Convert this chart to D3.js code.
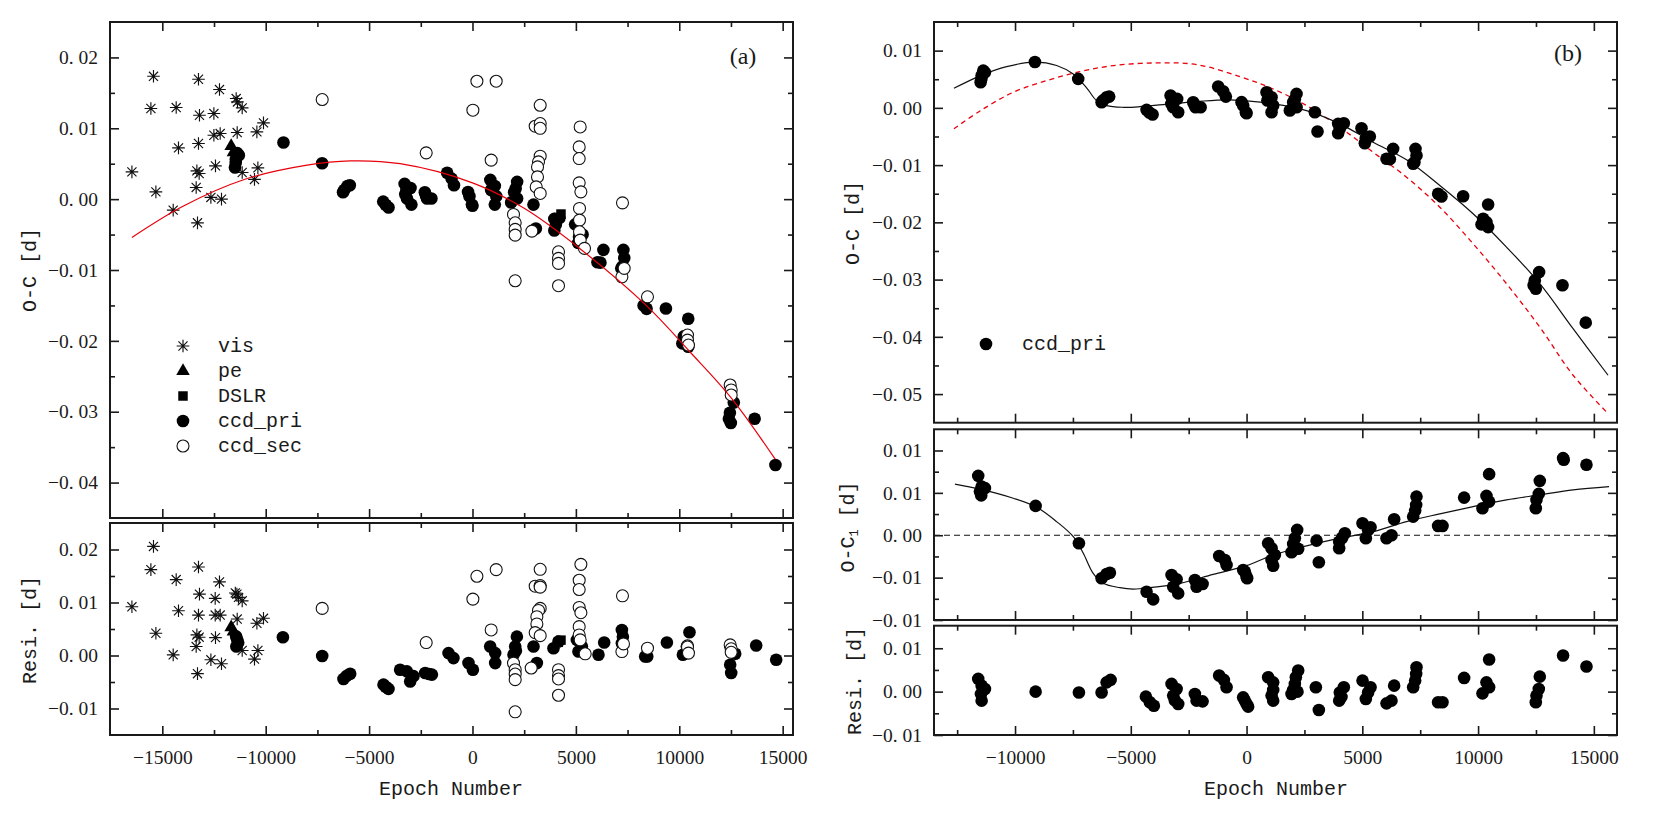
<!DOCTYPE html>
<html>
<head>
<meta charset="utf-8">
<script src="https://cdn.jsdelivr.net/npm/d3@7"></script>
<style>
  body { margin: 0; background: #fff; }
</style>
</head>
<body>
<div id="vis"></div>
<script>
var width = 1661;
var height = 818;

var font_num = "'Liberation Serif', 'DejaVu Serif', serif";
var font_txt = "'Liberation Mono', 'DejaVu Sans Mono', monospace";
var ink = "#1a1a1a";

// ---- ticks ----
var x_major_left = [-15000, -10000, -5000, 0, 5000, 10000, 15000];
var x_minor_left = [-12500, -7500, -2500, 2500, 7500, 12500];
var x_major_right = [-10000, -5000, 0, 5000, 10000, 15000];
var x_minor_right = [-12500, -7500, -2500, 2500, 7500, 12500];
var y_major_lt = [0.02, 0.01, 0, -0.01, -0.02, -0.03, -0.04];
var y_minor_lt = [0.015, 0.005, -0.005, -0.015, -0.025, -0.035];
var y_major_lb = [0.02, 0.01, 0, -0.01];
var y_minor_lb = [0.015, 0.005, -0.005];
var y_major_rt = [0.01, 0, -0.01, -0.02, -0.03, -0.04, -0.05];
var y_minor_rt = [0.005, -0.005, -0.015, -0.025, -0.035, -0.045];
var y_major_rm = [0.01, 0.005, 0, -0.005, -0.01];
var y_minor_rm = [0.0075, 0.0025, -0.0025, -0.0075];
var y_major_rb = [0.005, 0, -0.005];
var y_minor_rb = [0.0025, -0.0025];

// ---- panel (a): O-C ----
var vis_epoch = [-16470,-15427,-15553,-15311,-14329,-14474,-14218,-13251,-13203,-13251,-13329,-13218,-13362,-13299,-12235,-12506,-12506,-12201,-12429,-12651,-12138,-11428,-11365,-11137,-11379,-11137,-10427,-10378,-10543,-10107];
var vis_oc = [0.00385,0.01734,0.01279,0.00103,0.01293,-0.00155,0.00723,0.01692,0.01184,0.00785,0.00399,0.00362,0.00165,-0.00334,0.01547,0.01208,0.00902,0.00926,0.0047,0.00024,0.0,0.0142,0.01372,0.01287,0.0094,0.00376,0.00949,0.00441,0.00278,0.01076];

var pe_epoch = [-11670, -11560];
var pe_oc = [0.0075, 0.0066];

var dslr_epoch = [4150, 4280];
var dslr_oc = [-0.0026, -0.0021];

// ccd_pri, shared by (a) and (b)
var pri_epoch = [-11486,-11443,-11373,-11300,-11450,-9141,-7271,-6261,-6200,-6045,-5933,-4318,-4200,-4059,-3282,-3195,-3169,-3250,-2997,-2953,-2305,-2250,-2202,-1986,-1226,-1010,-894,-216,-147,-30,0,863,900,1080,1150,1080,1870,2014,2087,2159,2159,2949,3065,3957,4030,3957,4201,4965,5108,5150,5324,6045,6189,6331,7196,7250,7297,7340,8274,8419,9354,10147,10218,10362,10434,10434,12400,12449,12493,12636,13645,14651];
var pri_oc = [0.00447,0.00564,0.0065,0.0062,0.0051,0.008,0.00506,0.00098,0.0013,0.00185,0.00197,-0.00035,-0.0008,-0.00117,0.00215,0.00127,0.0001,0.0007,0.00157,-0.00077,0.00098,0.0005,0.0001,0.0001,0.00372,0.0029,0.00197,0.001,0.0004,-0.00077,-0.00094,0.00272,0.0013,0.00185,0.0004,-0.00077,-0.00047,0.00098,0.0015,0.00244,0.0001,-0.00077,-0.00414,-0.00279,-0.0036,-0.00443,-0.00268,-0.00356,-0.00617,-0.0053,-0.005,-0.0089,-0.00896,-0.00716,-0.00977,-0.0095,-0.00716,-0.0083,-0.015,-0.01548,-0.01543,-0.02036,-0.01937,-0.01996,-0.02083,-0.01687,-0.031,-0.03014,-0.03159,-0.02869,-0.031,-0.03752];

var sec_epoch = [-7268,-2239,19,213,1146,904,1983,2065,2065,2065,2065,2873,3274,3032,3274,3274,3274,3193,3144,3144,3081,3274,4160,4160,4160,4160,5208,5160,5160,5160,5242,5175,5175,5175,5208,5416,7254,7225,7336,8463,10397,10397,10445,12462,12511,12511];
var sec_oc = [0.01406,0.00653,0.01255,0.01664,0.01664,0.0055,-0.00216,-0.00334,-0.00427,-0.00508,-0.01152,-0.00451,0.01325,0.01029,0.01067,0.01,0.00606,0.00526,0.00455,0.00314,0.00173,0.0008,-0.00743,-0.00836,-0.00907,-0.01222,0.01019,0.00737,0.00573,0.0023,0.00103,-0.00131,-0.00296,-0.00461,-0.00578,-0.00695,-0.00052,-0.01096,-0.00977,-0.01378,-0.01918,-0.0199,-0.02059,-0.02623,-0.02693,-0.02764];

// quadratic fit in (a)
var quad_epoch = [-16470,-14000,-11000,-8000,-5900,-3500,0,2500,5200,8400,10500,12500,14640];
var quad_oc = [-0.0054,-0.001,0.0028,0.0048,0.0054,0.005,0.0023,-0.0013,-0.007,-0.015,-0.0215,-0.028,-0.0367];

// ---- panel (a): residuals ----
var res_vis_epoch = [-16470,-15427,-15553,-15311,-14329,-14474,-14218,-13251,-13203,-13251,-13329,-13218,-13362,-13299,-12235,-12443,-12443,-12201,-12429,-12651,-12138,-11394,-11316,-11137,-11379,-11137,-10427,-10378,-10543,-10107,-11470];
var res_vis = [0.00919,0.02058,0.01621,0.0042,0.01433,0.00013,0.00844,0.0167,0.01157,0.00763,0.00388,0.00345,0.00169,-0.00343,0.01388,0.01077,0.00763,0.00763,0.00338,-0.00081,-0.00156,0.01157,0.01096,0.01032,0.00688,0.00094,0.00608,0.00094,-0.00068,0.00702,0.0118];
var res_pe = [0.0053, 0.0045];
var res_dslr = [0.0025, 0.0029];
var res_pri_epoch = [-11430,-11380,-11330,-11420,-9169,-7268,-6238,-6100,-5915,-4304,-4200,-4062,-3500,-3172,-3013,-2853,-2287,-2100,-1963,-1160,-919,-193,19,856,1098,1098,2147,2065,1983,2100,2950,3113,3917,4160,5049,5290,5126,6093,6369,7225,7273,7225,8352,8450,9401,10494,10368,10175,12704,12462,12511,13720,14687];
var res_pri = [0.0036,0.003,0.0024,0.0017,0.00345,-0.0001,-0.00443,-0.0039,-0.00343,-0.0055,-0.0059,-0.0063,-0.0027,-0.003,-0.0049,-0.0039,-0.0033,-0.0035,-0.0036,0.00045,-0.00049,-0.00143,-0.00268,0.00169,0.00045,-0.00143,0.00356,0.00169,0.00013,0.0009,0.00169,-0.00143,0.00138,0.00263,0.00294,0.00169,0.00075,0.00013,0.00244,0.00482,0.00356,0.00233,-0.00019,-0.0002,0.00244,0.00439,0.00169,0.00013,0.00032,-0.00174,-0.0033,0.00188,-0.00081];
var res_sec_epoch = [-7268,-2239,19,213,1146,904,1983,2065,2065,2065,2065,2839,3274,3032,3274,3274,3274,3193,3113,3113,3032,3274,4160,4160,4160,4160,5242,5160,5160,5160,5242,5160,5160,5208,5450,7254,7225,7302,8463,10397,10397,10445,12462,12511,12511];
var res_sec = [0.00889,0.00244,0.01064,0.01495,0.01621,0.00482,-0.00143,-0.00268,-0.0035,-0.00456,-0.01062,-0.00236,0.01626,0.01308,0.0132,0.0129,0.00889,0.0085,0.00732,0.00595,0.00432,0.00375,-0.00268,-0.0038,-0.00443,-0.0075,0.0172,0.0142,0.01245,0.00907,0.00807,0.00544,0.00388,0.00294,0.00032,0.01126,0.00075,0.00219,0.00138,0.00182,0.0016,0.00045,0.002,0.00126,0.0006];

// ---- panel (b) ----
var fit_epoch = [-12639,-11486,-10363,-9141,-8204,-7487,-6909,-6477,-6045,-5328,-4607,-3600,-2159,-721,1150,2591,4029,5467,6909,8347,9785,11227,12665,14103,15614];
var fit_oc = [0.00342,0.00564,0.0072,0.008,0.0074,0.0059,0.0035,0.00127,0.0004,0.0001,0.0002,0.00058,0.0011,0.0014,0.0007,-0.00047,-0.00279,-0.006,-0.00907,-0.01356,-0.0185,-0.02432,-0.03071,-0.03857,-0.04671];
var par_epoch = [-12639,-11486,-10078,-8636,-7198,-5760,-3961,-2159,-289,1150,2591,4029,5467,6909,8347,9785,11227,12665,14103,15614];
var par_oc = [-0.00366,-0.00047,0.00272,0.00476,0.00633,0.00738,0.00785,0.00756,0.00546,0.0033,0.0004,-0.00339,-0.00775,-0.01211,-0.01735,-0.02373,-0.03071,-0.03829,-0.04671,-0.0534];

var oc1_epoch = [-11590,-11443,-11300,-11516,-11460,-9111,-7241,-6261,-6045,-5902,-4318,-4033,-3239,-3022,-3169,-2953,-2232,-2159,-1900,-1183,-937,-864,-147,0,-73,26,933,1080,1222,1080,1150,2185,2086,2014,1943,2230,3023,3122,4000,4245,4000,4130,5009,5354,5152,5250,6045,6261,6375,7340,7325,7282,7196,8274,8463,9397,10477,10362,10477,10190,12665,12622,12522,12493,13671,13700,14681];
var oc1 = [0.00701,0.00574,0.00556,0.00515,0.0047,0.00346,-0.00095,-0.00508,-0.00457,-0.00442,-0.00667,-0.00757,-0.00469,-0.0052,-0.00607,-0.00686,-0.00528,-0.00607,-0.00576,-0.00245,-0.00292,-0.00351,-0.0041,-0.00489,-0.0043,-0.00508,-0.00095,-0.00154,-0.00233,-0.00292,-0.00359,0.00063,-0.00035,-0.00103,-0.00201,-0.0016,-0.00064,-0.00319,-0.00076,0.00024,-0.00154,-0.0003,0.00142,0.00095,-0.00035,0.0006,-0.00035,0.0,0.00189,0.00456,0.00358,0.00291,0.0022,0.0011,0.0011,0.00444,0.00721,0.00465,0.00397,0.00319,0.00642,0.00488,0.00417,0.00319,0.0091,0.0089,0.00831];
var ltte_epoch = [-12596,-11516,-10078,-9068,-8204,-7483,-7052,-6624,-6192,-5471,-4897,-4176,-2880,-1442,0,1150,2591,4029,5467,6909,8347,9785,11227,12665,14103,15656];
var ltte = [0.00603,0.00544,0.00437,0.00331,0.00161,-0.00017,-0.00213,-0.00449,-0.00567,-0.00619,-0.00635,-0.00619,-0.00567,-0.00461,-0.00359,-0.00233,-0.00126,-0.00035,0.00043,0.00161,0.00252,0.00338,0.00417,0.00476,0.00535,0.00574];

var res_b_epoch = [-11590,-11443,-11300,-11472,-11443,-9111,-7241,-6261,-6045,-5872,-4348,-4176,-4004,-3239,-3022,-3169,-2953,-3100,-2232,-2159,-1900,-1183,-980,-864,-147,0,-73,69,933,1150,1150,1080,1150,2230,2129,2086,2014,1943,2200,2993,3122,4029,4201,4000,4100,5009,5354,5152,5250,6045,6261,6375,7340,7325,7282,7196,8274,8463,9397,10477,10362,10477,10190,12665,12622,12522,12493,13671,14681];
var res_b = [0.00147,0.00069,0.00031,-0.00027,-0.00104,0.0,-0.0001,-0.0001,0.00107,0.00135,-0.00058,-0.00123,-0.00162,0.00089,0.00031,-0.00046,-0.00142,-0.001,-0.00027,-0.00104,-0.00112,0.00185,0.00135,0.0005,-0.00066,-0.00142,-0.00104,-0.00173,0.00165,0.00107,0.0002,-0.00046,-0.00104,0.00243,0.00165,0.00089,0.0002,-0.00027,0.0,0.0005,-0.00211,-0.0001,0.0005,-0.00104,-0.0006,0.00127,0.0005,-0.00085,-0.0001,-0.00135,-0.00104,0.00069,0.00281,0.00204,0.00127,0.0005,-0.00123,-0.00123,0.00158,0.0037,0.00107,0.0005,-0.0002,0.00173,0.00031,-0.00046,-0.00123,0.00416,0.00289];

var legend_a = ["vis", "pe", "DSLR", "ccd_pri", "ccd_sec"];

// 8-armed asterisk for the visual timings
var symbol_star = {
  draw: function(ctx, size) {
    var r = Math.sqrt(size) / 2;
    var d = r * 0.72;
    ctx.moveTo(-r, 0); ctx.lineTo(r, 0);
    ctx.moveTo(0, -r); ctx.lineTo(0, r);
    ctx.moveTo(-d, -d); ctx.lineTo(d, d);
    ctx.moveTo(-d, d); ctx.lineTo(d, -d);
  }
};

var svg = d3.select("#vis").append("svg")
  .attr("width", width)
  .attr("height", height)
  .style("display", "block");

function fmt_y(d) { return d3.format(".2f")(d).replace(".", ". "); }
function fmt_x(d) { return d3.format("d")(d); }

function zip(a, b) { return a.map(function(v, i) { return [v, b[i]]; }); }

// frame + inward ticks on all four sides
function draw_frame(x, y, o) {
  var g = svg.append("g").attr("color", ink);
  var x0 = x.range()[0], x1 = x.range()[1];
  var y0 = y.range()[0], y1 = y.range()[1];

  var b = g.append("g").attr("transform", "translate(0," + y0 + ")")
    .call(d3.axisBottom(x).tickValues(o.x_major).tickSize(-9).tickPadding(15)
      .tickFormat(o.x_labels ? fmt_x : ""));
  b.append("g").call(d3.axisBottom(x).tickValues(o.x_minor).tickSize(-5).tickFormat(""));
  var t = g.append("g").attr("transform", "translate(0," + y1 + ")")
    .call(d3.axisTop(x).tickValues(o.x_major).tickSize(-9).tickFormat(""));
  t.append("g").call(d3.axisTop(x).tickValues(o.x_minor).tickSize(-5).tickFormat(""));

  var l = g.append("g").attr("transform", "translate(" + x0 + ",0)")
    .call(d3.axisLeft(y).tickValues(o.y_major).tickSize(-9).tickPadding(12).tickFormat(fmt_y));
  l.append("g").call(d3.axisLeft(y).tickValues(o.y_minor).tickSize(-5).tickFormat(""));
  var r = g.append("g").attr("transform", "translate(" + x1 + ",0)")
    .call(d3.axisRight(y).tickValues(o.y_major).tickSize(-9).tickFormat(""));
  r.append("g").call(d3.axisRight(y).tickValues(o.y_minor).tickSize(-5).tickFormat(""));

  g.selectAll(".domain").remove();
  g.selectAll(".tick line").attr("stroke-width", 1.6);
  g.selectAll("g").attr("font-size", 19.5).attr("font-family", font_num);
  g.selectAll(".tick text").attr("fill", ink);

  g.append("rect")
    .attr("x", x0).attr("y", y1)
    .attr("width", x1 - x0).attr("height", y0 - y1)
    .attr("fill", "none").attr("stroke", ink).attr("stroke-width", 2);
}

function draw_dots(g, x, y, xs, ys, kind) {
  var pts = zip(xs, ys);
  if (kind === "pri") {
    g.selectAll(null).data(pts).enter().append("circle")
      .attr("cx", d => x(d[0])).attr("cy", d => y(d[1]))
      .attr("r", 6.3).attr("fill", "#000");
  } else if (kind === "sec") {
    g.selectAll(null).data(pts).enter().append("circle")
      .attr("cx", d => x(d[0])).attr("cy", d => y(d[1]))
      .attr("r", 6).attr("fill", "#fff").attr("stroke", "#111").attr("stroke-width", 1.1);
  } else if (kind === "vis") {
    g.selectAll(null).data(pts).enter().append("path")
      .attr("transform", d => "translate(" + x(d[0]) + "," + y(d[1]) + ")")
      .attr("d", d3.symbol().type(symbol_star).size(160))
      .attr("fill", "none").attr("stroke", "#111").attr("stroke-width", 1.15);
  } else if (kind === "pe") {
    g.selectAll(null).data(pts).enter().append("path")
      .attr("transform", d => "translate(" + x(d[0]) + "," + y(d[1]) + ")")
      .attr("d", d3.symbol().type(d3.symbolTriangle).size(80))
      .attr("fill", "#000");
  } else if (kind === "dslr") {
    g.selectAll(null).data(pts).enter().append("path")
      .attr("transform", d => "translate(" + x(d[0]) + "," + y(d[1]) + ")")
      .attr("d", d3.symbol().type(d3.symbolSquare).size(90))
      .attr("fill", "#000");
  }
}

function draw_curve(g, x, y, xs, ys, color, dash, w) {
  var line = d3.line().x(d => x(d[0])).y(d => y(d[1])).curve(d3.curveCatmullRom.alpha(0.5));
  g.append("path").datum(zip(xs, ys))
    .attr("d", line)
    .attr("fill", "none")
    .attr("stroke", color)
    .attr("stroke-width", w || 1.2)
    .attr("stroke-dasharray", dash || null);
}

function y_title(x, y, txt, sub) {
  var t = svg.append("text")
    .attr("transform", "translate(" + x + "," + y + ") rotate(-90)")
    .attr("text-anchor", "middle")
    .attr("dominant-baseline", "central")
    .attr("font-family", font_txt)
    .attr("font-size", 20)
    .attr("fill", ink);
  if (sub) {
    t.append("tspan").text(txt[0]);
    t.append("tspan").text(sub).attr("font-size", 12).attr("baseline-shift", "sub");
    t.append("tspan").text(txt[1]);
  } else {
    t.text(txt);
  }
}

// ================= panel (a) =================
var xa = d3.scaleLinear().domain([-17530, 15500]).range([110, 793]);
var ya_top = d3.scaleLinear().domain([-0.045, 0.025]).range([518, 22]);
var ya_bot = d3.scaleLinear().domain([-0.015, 0.025]).range([735, 523]);

var ga = svg.append("g");
draw_dots(ga, xa, ya_top, vis_epoch, vis_oc, "vis");
draw_dots(ga, xa, ya_top, pe_epoch, pe_oc, "pe");
draw_dots(ga, xa, ya_top, dslr_epoch, dslr_oc, "dslr");
draw_dots(ga, xa, ya_top, pri_epoch, pri_oc, "pri");
draw_dots(ga, xa, ya_top, sec_epoch, sec_oc, "sec");
draw_curve(ga, xa, ya_top, quad_epoch, quad_oc, "#e8000b", null, 1.2);

var gab = svg.append("g");
draw_dots(gab, xa, ya_bot, res_vis_epoch, res_vis, "vis");
draw_dots(gab, xa, ya_bot, pe_epoch, res_pe, "pe");
draw_dots(gab, xa, ya_bot, dslr_epoch, res_dslr, "dslr");
draw_dots(gab, xa, ya_bot, res_pri_epoch, res_pri, "pri");
draw_dots(gab, xa, ya_bot, res_sec_epoch, res_sec, "sec");

draw_frame(xa, ya_top, {x_major: x_major_left, x_minor: x_minor_left, y_major: y_major_lt, y_minor: y_minor_lt});
draw_frame(xa, ya_bot, {x_major: x_major_left, x_minor: x_minor_left, y_major: y_major_lb, y_minor: y_minor_lb, x_labels: true});

// legend (a)
var leg = svg.append("g").attr("transform", "translate(183,346)");
var leg_kinds = ["vis", "pe", "dslr", "pri", "sec"];
legend_a.forEach(function(name, i) {
  var row = leg.append("g").attr("transform", "translate(0," + i * 25 + ")");
  draw_dots(row, d => d, d => d, [0], [0], leg_kinds[i]);
  row.append("text").attr("x", 35).attr("y", 0)
    .attr("dominant-baseline", "central")
    .attr("font-family", font_txt).attr("font-size", 20).attr("fill", ink)
    .text(name);
});

svg.append("text").attr("x", 743).attr("y", 56)
  .attr("text-anchor", "middle").attr("dominant-baseline", "central")
  .attr("font-family", font_num).attr("font-size", 24).attr("fill", ink)
  .text("(a)");

y_title(30, 270, "O-C [d]");
y_title(30, 630, "Resi. [d]");
svg.append("text").attr("x", 451).attr("y", 789)
  .attr("text-anchor", "middle").attr("dominant-baseline", "central")
  .attr("font-family", font_txt).attr("font-size", 20).attr("fill", ink)
  .text("Epoch Number");

// ================= panel (b) =================
var xb = d3.scaleLinear().domain([-13500, 16000]).range([934, 1617]);
var yb_top = d3.scaleLinear().domain([-0.055, 0.015]).range([422.7, 22]);
var yb_mid = d3.scaleLinear().domain([-0.010, 0.0125]).range([620, 429.3]);
var yb_bot = d3.scaleLinear().domain([-0.005, 0.0076]).range([735, 625.7]);

var gb = svg.append("g");
draw_curve(gb, xb, yb_top, par_epoch, par_oc, "#e8000b", "5,4", 1.3);
draw_curve(gb, xb, yb_top, fit_epoch, fit_oc, "#111", null, 1.2);
draw_dots(gb, xb, yb_top, pri_epoch, pri_oc, "pri");

var gbm = svg.append("g");
gbm.append("line")
  .attr("x1", xb.range()[0]).attr("x2", xb.range()[1])
  .attr("y1", yb_mid(0)).attr("y2", yb_mid(0))
  .attr("stroke", "#111").attr("stroke-width", 1.1).attr("stroke-dasharray", "6,4");
draw_curve(gbm, xb, yb_mid, ltte_epoch, ltte, "#111", null, 1.2);
draw_dots(gbm, xb, yb_mid, oc1_epoch, oc1, "pri");

var gbb = svg.append("g");
draw_dots(gbb, xb, yb_bot, res_b_epoch, res_b, "pri");

draw_frame(xb, yb_top, {x_major: x_major_right, x_minor: x_minor_right, y_major: y_major_rt, y_minor: y_minor_rt});
draw_frame(xb, yb_mid, {x_major: x_major_right, x_minor: x_minor_right, y_major: y_major_rm, y_minor: y_minor_rm});
draw_frame(xb, yb_bot, {x_major: x_major_right, x_minor: x_minor_right, y_major: y_major_rb, y_minor: y_minor_rb, x_labels: true});

// legend (b)
var legb = svg.append("g").attr("transform", "translate(986,344)");
draw_dots(legb, d => d, d => d, [0], [0], "pri");
legb.append("text").attr("x", 36).attr("y", 0)
  .attr("dominant-baseline", "central")
  .attr("font-family", font_txt).attr("font-size", 20).attr("fill", ink)
  .text("ccd_pri");

svg.append("text").attr("x", 1568).attr("y", 53)
  .attr("text-anchor", "middle").attr("dominant-baseline", "central")
  .attr("font-family", font_num).attr("font-size", 24).attr("fill", ink)
  .text("(b)");

y_title(853, 223, "O-C [d]");
y_title(848, 527, ["O-C", " [d]"], "1");
y_title(855, 681, "Resi. [d]");
svg.append("text").attr("x", 1276).attr("y", 789)
  .attr("text-anchor", "middle").attr("dominant-baseline", "central")
  .attr("font-family", font_txt).attr("font-size", 20).attr("fill", ink)
  .text("Epoch Number");
</script>
</body>
</html>
